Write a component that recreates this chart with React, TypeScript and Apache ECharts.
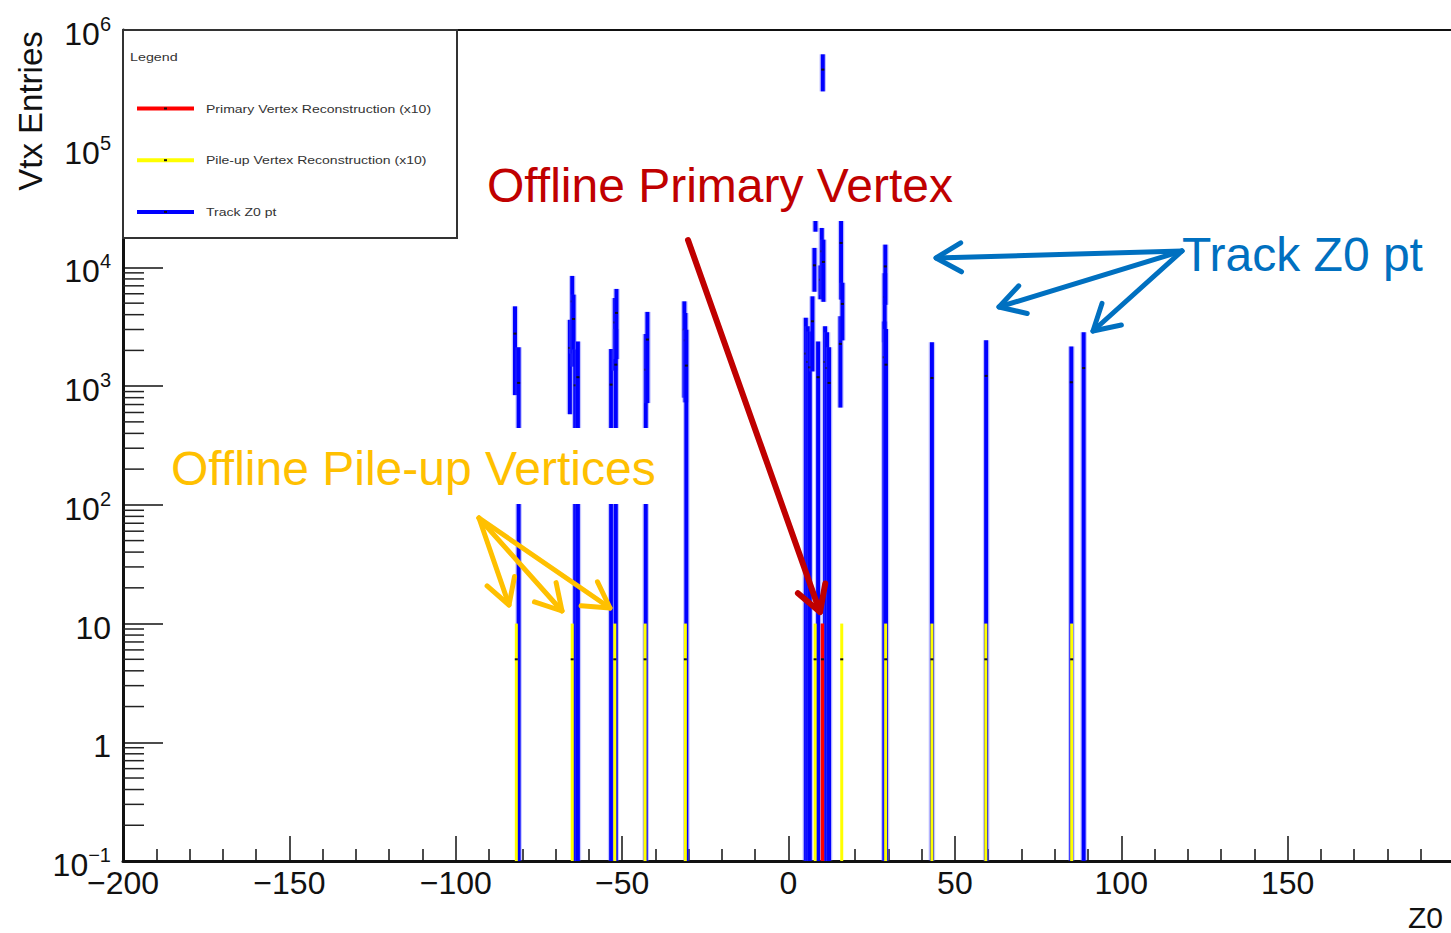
import React, { useEffect, useRef } from 'react';
import * as echarts from 'echarts';

const FONT = '"Liberation Sans", Arial, Helvetica, sans-serif';

// Z0 axis range (cm) and log-scale entries range
const Z_MIN = -200;
const Z_MAX = 200;
const Y_MIN = 0.1;
const Y_MAX = 1e6;

// Track Z0 pt histogram: bin centre, content, error
const trackZ = [
  -82.2, -81.1, -65.7, -65.0, -64.6, -64.1, -63.3, -53.3, -52.2, -51.9, -51.7,
  -42.9, -42.4, -31.3, -31.0, -30.7, 5.2, 5.8, 6.4, 7.2, 7.8, 8.1, 8.9, 9.6,
  10.0, 10.3, 10.5, 11.0, 11.6, 12.2, 15.6, 15.8, 16.2, 28.8, 28.9, 29.1, 29.3,
  43.1, 59.4, 85.0, 88.7,
];
const trackContent = [
  2770, 1065, 2100, 5180, 3680, 1016, 1190, 1030, 3440, 1517, 4140,
  1377, 2470, 2990, 2430, 1490, 1880, 1600, 1440, 3520, 10420, 31000, 1190, 7890,
  13680, 464000, 11130, 1600, 1420, 1064, 2270, 16080, 4930, 1750, 5640, 10200, 1517,
  1172, 1220, 1078, 1420,
];
const trackError = [
  1930, 1065, 1520, 3300, 2220, 1016, 1190, 1030, 2090, 1517, 2450,
  1377, 1750, 2190, 1700, 1490, 1880, 1600, 1440, 2190, 4180, 11000, 1190, 2500,
  7820, 160000, 6000, 1600, 1420, 1064, 1610, 10720, 2500, 1750, 3300, 5360, 1517,
  1172, 1220, 1078, 1420,
];

// Pile-up vertex reconstruction (x10)
const pileupZ = [-81.8, -65.0, -52.2, -43.1, -31.0, 8.0, 16.0, 29.2, 43.1, 59.3, 85.1];
const pileupContent = [5, 5, 5, 5, 5, 5, 5, 5, 5, 5, 5];
const pileupError = [5, 5, 5, 5, 5, 5, 5, 5, 5, 5, 5];

// Primary vertex reconstruction (x10)
const primaryZ = [10.2];
const primaryContent = [5];
const primaryError = [5];

// Log-axis minor tick multipliers and decades
const minorMultipliers = [2, 3, 4, 5, 6, 7, 8, 9];
const decades = [-1, 0, 1, 2, 3, 4, 5];

const legendEntries = [
  { label: 'Primary Vertex Reconstruction (x10)', color: '#ff0000' },
  { label: 'Pile-up Vertex Reconstruction (x10)', color: '#ffff00' },
  { label: 'Track Z0 pt', color: '#0000ff' },
];

function errorBarSeries(
  name: string,
  zs: number[],
  vals: number[],
  errs: number[],
  color: string,
  width: number,
  halo: string | null,
  z: number
) {
  return {
    type: 'custom',
    name,
    z,
    clip: true,
    data: zs.map((x, i) => [x, vals[i], errs[i]]),
    encode: { x: 0, y: 1 },
    renderItem: (_params: any, api: any) => {
      const x = api.value(0);
      const v = api.value(1);
      const e = api.value(2);
      const hi = api.coord([x, Math.min(v + e, Y_MAX)]);
      const lo = api.coord([x, v - e > Y_MIN ? v - e : Y_MIN]);
      const c = api.coord([x, v]);
      const children: any[] = [];
      if (halo) {
        children.push({
          type: 'line',
          shape: { x1: hi[0], y1: hi[1], x2: lo[0], y2: lo[1] },
          style: { stroke: halo, lineWidth: width + 2.5 },
        });
      }
      children.push({
        type: 'line',
        shape: { x1: hi[0], y1: hi[1], x2: lo[0], y2: lo[1] },
        style: { stroke: color, lineWidth: width },
      });
      children.push({
        type: 'rect',
        shape: { x: c[0] - 1.5, y: c[1] - 1, width: 3, height: 2 },
        style: { fill: '#111' },
      });
      return { type: 'group', children };
    },
  };
}

function arrow(x1: number, y1: number, x2: number, y2: number, color: string, w = 5) {
  const ang = Math.atan2(y2 - y1, x2 - x1);
  const len = 29;
  const spread = Math.PI / 6;
  const a1 = [x2 - len * Math.cos(ang - spread), y2 - len * Math.sin(ang - spread)];
  const a2 = [x2 - len * Math.cos(ang + spread), y2 - len * Math.sin(ang + spread)];
  return [
    {
      type: 'line',
      z: 110,
      shape: { x1, y1, x2, y2 },
      style: { stroke: color, lineWidth: w, lineCap: 'round' },
    },
    {
      type: 'polyline',
      z: 110,
      shape: { points: [a1, [x2, y2], a2] },
      style: { stroke: color, lineWidth: w, lineCap: 'round', lineJoin: 'round', fill: null },
    },
  ];
}

export default function App() {
  const ref = useRef<HTMLDivElement>(null);

  useEffect(() => {
    if (!ref.current) return;
    const chart = echarts.init(ref.current, null, { renderer: 'svg' });

    const minorTickValues: number[] = [];
    decades.forEach((d) => {
      minorMultipliers.forEach((m) => minorTickValues.push(m * Math.pow(10, d)));
    });

    const legendEls: any[] = [
      {
        type: 'rect',
        z: 100,
        shape: { x: 123, y: 30, width: 334, height: 208 },
        style: { fill: '#fff', stroke: '#333', lineWidth: 2 },
      },
      {
        type: 'text',
        z: 101,
        x: 130,
        y: 57,
        scaleX: 1.3,
        style: {
          text: 'Legend',
          x: 0,
          y: 0,
          font: `11px ${FONT}`,
          fill: '#333',
          align: 'left',
          verticalAlign: 'middle',
        },
      },
    ];
    legendEntries.forEach((entry, i) => {
      const y = 108.5 + i * 51.7;
      legendEls.push(
        {
          type: 'line',
          z: 101,
          shape: { x1: 137, y1: y, x2: 194, y2: y },
          style: { stroke: entry.color, lineWidth: 4 },
        },
        {
          type: 'rect',
          z: 102,
          shape: { x: 164, y: y - 1, width: 3, height: 2 },
          style: { fill: '#111' },
        },
        {
          type: 'text',
          z: 101,
          x: 206,
          y,
          scaleX: 1.22,
          style: {
            text: entry.label,
            x: 0,
            y: 0,
            font: `11.5px ${FONT}`,
            fill: '#333',
            align: 'left',
            verticalAlign: 'middle',
          },
        }
      );
    });

    const annotationEls: any[] = [
      // white text boxes
      {
        type: 'rect',
        z: 105,
        shape: { x: 478, y: 150, width: 490, height: 71 },
        style: { fill: '#fff' },
      },
      {
        type: 'rect',
        z: 105,
        shape: { x: 165, y: 428, width: 497, height: 76 },
        style: { fill: '#fff' },
      },
      {
        type: 'text',
        z: 106,
        style: {
          text: 'Offline Primary Vertex',
          x: 487,
          y: 185,
          font: `48px ${FONT}`,
          fill: '#c00000',
          align: 'left',
          verticalAlign: 'middle',
        },
      },
      {
        type: 'text',
        z: 106,
        style: {
          text: 'Track Z0 pt',
          x: 1182,
          y: 254,
          font: `48px ${FONT}`,
          fill: '#0070c0',
          align: 'left',
          verticalAlign: 'middle',
        },
      },
      {
        type: 'text',
        z: 106,
        style: {
          text: 'Offline Pile-up Vertices',
          x: 171,
          y: 468,
          font: `48px ${FONT}`,
          fill: '#ffc000',
          align: 'left',
          verticalAlign: 'middle',
        },
      },
      ...arrow(688, 240, 820, 612, '#c00000', 6),
      ...arrow(479, 518, 509, 605, '#ffc000'),
      ...arrow(479, 518, 562, 611, '#ffc000'),
      ...arrow(479, 518, 610, 608, '#ffc000'),
      ...arrow(1182, 251, 936, 258, '#0070c0'),
      ...arrow(1182, 251, 999, 307, '#0070c0'),
      ...arrow(1182, 251, 1093, 331, '#0070c0'),
      // axis titles
      {
        type: 'text',
        z: 106,
        x: 30,
        y: 111,
        rotation: Math.PI / 2,
        style: {
          text: 'Vtx Entries',
          x: 0,
          y: 0,
          font: `33px ${FONT}`,
          fill: '#111',
          align: 'center',
          verticalAlign: 'middle',
        },
      },
      {
        type: 'text',
        z: 106,
        style: {
          text: 'Z0',
          x: 1443,
          y: 917,
          font: `30px ${FONT}`,
          fill: '#111',
          align: 'right',
          verticalAlign: 'middle',
        },
      },
    ];

    const option: any = {
      animation: false,
      backgroundColor: '#fff',
      grid: {
        left: 123,
        right: 16,
        top: 30,
        bottom: 72,
        show: true,
        borderColor: '#111',
        borderWidth: 2,
        backgroundColor: 'transparent',
      },
      xAxis: {
        type: 'value',
        min: Z_MIN,
        max: Z_MAX,
        interval: 50,
        axisLine: { show: true, onZero: false, lineStyle: { color: '#111', width: 3 } },
        axisTick: { show: true, inside: true, length: 25, lineStyle: { color: '#111', width: 1.5 } },
        minorTick: { show: true, splitNumber: 5, length: 12, lineStyle: { color: '#111', width: 1.5 } },
        splitLine: { show: false },
        minorSplitLine: { show: false },
        axisLabel: {
          show: true,
          showMaxLabel: false,
          margin: 6,
          fontFamily: FONT,
          fontSize: 32,
          color: '#111',
          formatter: (v: number) => String(v).replace('-', '\u2212'),
        },
      },
      yAxis: {
        type: 'log',
        logBase: 10,
        min: Y_MIN,
        max: Y_MAX,
        axisLine: { show: true, onZero: false, lineStyle: { color: '#111', width: 3 } },
        axisTick: { show: true, inside: true, length: 40, lineStyle: { color: '#111', width: 1.5 } },
        splitLine: { show: false },
        axisLabel: {
          show: true,
          margin: 12,
          padding: [8, 0, 0, 0],
          formatter: (v: number) => {
            const p = Math.round(Math.log10(v));
            if (p === 0) return '{b|1}';
            if (p === 1) return '{b|10}';
            return '{b|10}{s|' + (p < 0 ? '\u2212' + -p : String(p)) + '}';
          },
          rich: {
            b: { fontFamily: FONT, fontSize: 32, color: '#111', lineHeight: 40 },
            s: { fontFamily: FONT, fontSize: 20, color: '#111', verticalAlign: 'top', lineHeight: 22 },
          },
        },
      },
      series: [
        {
          type: 'custom',
          name: 'minor ticks',
          z: 1,
          silent: true,
          data: minorTickValues.map((v) => [Z_MIN, v]),
          encode: { x: 0, y: 1 },
          renderItem: (_params: any, api: any) => {
            const p = api.coord([api.value(0), api.value(1)]);
            return {
              type: 'line',
              shape: { x1: p[0], y1: p[1], x2: p[0] + 21, y2: p[1] },
              style: { stroke: '#222', lineWidth: 1.5 },
            };
          },
        },
        errorBarSeries('Track Z0 pt', trackZ, trackContent, trackError, '#0000ff', 4, 'rgba(90,90,255,0.35)', 3),
        errorBarSeries('Pile-up Vertex Reconstruction (x10)', pileupZ, pileupContent, pileupError, '#ffff00', 3, null, 4),
        errorBarSeries('Primary Vertex Reconstruction (x10)', primaryZ, primaryContent, primaryError, '#ff0000', 3.5, null, 5),
      ],
      graphic: { elements: [...legendEls, ...annotationEls] },
    };

    chart.setOption(option);
    return () => chart.dispose();
  }, []);

  return (
    <div
      style={{
        position: 'fixed',
        left: 0,
        top: 0,
        width: 1451,
        height: 933,
        overflow: 'hidden',
        background: '#fff',
      }}
    >
      <div ref={ref} style={{ width: 1470, height: 933 }} />
    </div>
  );
}
